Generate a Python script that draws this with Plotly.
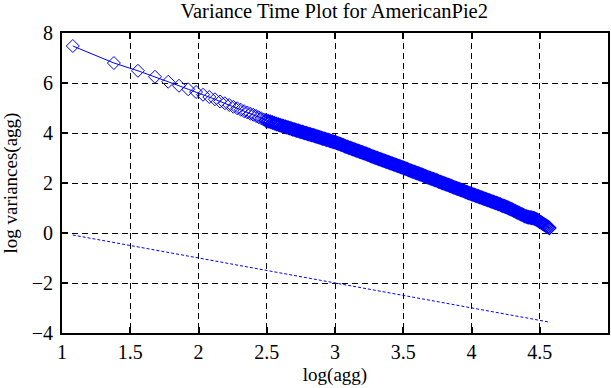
import plotly.graph_objects as go

# log10 of aggregation level
log_agg = [
    1.0792, 1.3802, 1.5563, 1.6812, 1.7782, 1.8573, 1.9243, 1.9823, 2.0334, 2.0792,
    2.1206, 2.1584, 2.1931, 2.2253, 2.2553, 2.2833, 2.3096, 2.3345, 2.3579, 2.3802,
    2.4014, 2.4216, 2.4409, 2.4594, 2.4771, 2.4942, 2.5105, 2.5263, 2.5416, 2.5563,
    2.5705, 2.5843, 2.5977, 2.6107, 2.6232, 2.6355, 2.6474, 2.6590, 2.6702, 2.6812,
    2.69, 2.70, 2.71, 2.72, 2.73, 2.74, 2.75, 2.76, 2.77, 2.78, 2.79,
    2.80, 2.81, 2.82, 2.83, 2.84, 2.85, 2.86, 2.87, 2.88, 2.89,
    2.90, 2.91, 2.92, 2.93, 2.94, 2.95, 2.96, 2.97, 2.98, 2.99,
    3.00, 3.01, 3.02, 3.03, 3.04, 3.05, 3.06, 3.07, 3.08, 3.09,
    3.10, 3.11, 3.12, 3.13, 3.14, 3.15, 3.16, 3.17, 3.18, 3.19,
    3.20, 3.21, 3.22, 3.23, 3.24, 3.25, 3.26, 3.27, 3.28, 3.29,
    3.30, 3.31, 3.32, 3.33, 3.34, 3.35, 3.36, 3.37, 3.38, 3.39,
    3.40, 3.41, 3.42, 3.43, 3.44, 3.45, 3.46, 3.47, 3.48, 3.49,
    3.50, 3.51, 3.52, 3.53, 3.54, 3.55, 3.56, 3.57, 3.58, 3.59,
    3.60, 3.61, 3.62, 3.63, 3.64, 3.65, 3.66, 3.67, 3.68, 3.69,
    3.70, 3.71, 3.72, 3.73, 3.74, 3.75, 3.76, 3.77, 3.78, 3.79,
    3.80, 3.81, 3.82, 3.83, 3.84, 3.85, 3.86, 3.87, 3.88, 3.89,
    3.90, 3.91, 3.92, 3.93, 3.94, 3.95, 3.96, 3.97, 3.98, 3.99,
    4.00, 4.01, 4.02, 4.03, 4.04, 4.05, 4.06, 4.07, 4.08, 4.09,
    4.10, 4.11, 4.12, 4.13, 4.14, 4.15, 4.16, 4.17, 4.18, 4.19,
    4.20, 4.21, 4.22, 4.23, 4.24, 4.25, 4.26, 4.27, 4.28, 4.29,
    4.30, 4.31, 4.32, 4.33, 4.34, 4.35, 4.36, 4.37, 4.38, 4.39,
    4.40, 4.41, 4.42, 4.43, 4.44, 4.45, 4.46, 4.47, 4.48, 4.49,
    4.50, 4.51, 4.52, 4.53, 4.54, 4.55, 4.56, 4.57,
]

# log10 of variance of the aggregated series
log_var = [
    7.48, 6.80, 6.49, 6.25, 6.05, 5.89, 5.75, 5.64, 5.53, 5.44,
    5.35, 5.26, 5.19, 5.12, 5.05, 4.99, 4.93, 4.87, 4.82, 4.77,
    4.73, 4.68, 4.63, 4.59, 4.54, 4.50, 4.47, 4.45, 4.42, 4.39,
    4.36, 4.34, 4.31, 4.29, 4.27, 4.25, 4.23, 4.21, 4.19, 4.17,
    4.15, 4.14, 4.12, 4.10, 4.09, 4.07, 4.05, 4.04, 4.02, 4.00, 3.99,
    3.97, 3.95, 3.94, 3.92, 3.91, 3.89, 3.87, 3.85, 3.84, 3.82,
    3.80, 3.78, 3.77, 3.75, 3.73, 3.72, 3.70, 3.68, 3.66, 3.65,
    3.63, 3.61, 3.59, 3.57, 3.55, 3.53, 3.51, 3.48, 3.46, 3.44,
    3.42, 3.40, 3.38, 3.36, 3.34, 3.32, 3.30, 3.28, 3.26, 3.24,
    3.22, 3.20, 3.18, 3.16, 3.14, 3.12, 3.09, 3.07, 3.05, 3.03,
    3.01, 2.99, 2.97, 2.95, 2.93, 2.91, 2.89, 2.87, 2.85, 2.83,
    2.81, 2.79, 2.77, 2.75, 2.73, 2.71, 2.69, 2.67, 2.65, 2.63,
    2.61, 2.59, 2.57, 2.55, 2.52, 2.50, 2.48, 2.46, 2.44, 2.42,
    2.40, 2.38, 2.36, 2.34, 2.32, 2.30, 2.27, 2.25, 2.23, 2.21,
    2.19, 2.17, 2.15, 2.13, 2.11, 2.09, 2.06, 2.04, 2.02, 2.00,
    1.98, 1.96, 1.94, 1.92, 1.90, 1.88, 1.85, 1.83, 1.81, 1.79,
    1.77, 1.75, 1.73, 1.71, 1.69, 1.67, 1.64, 1.62, 1.60, 1.58,
    1.56, 1.54, 1.52, 1.50, 1.48, 1.46, 1.44, 1.42, 1.40, 1.38,
    1.36, 1.34, 1.32, 1.30, 1.28, 1.26, 1.24, 1.22, 1.20, 1.18,
    1.16, 1.14, 1.11, 1.09, 1.07, 1.05, 1.03, 1.00, 0.98, 0.95,
    0.93, 0.90, 0.87, 0.84, 0.82, 0.79, 0.76, 0.74, 0.71, 0.68,
    0.66, 0.64, 0.63, 0.62, 0.61, 0.60, 0.58, 0.56, 0.53, 0.49,
    0.45, 0.42, 0.38, 0.35, 0.31, 0.28, 0.24, 0.20,
]

# reference line (slope -1)
ref_x = [1.079, 4.576]
ref_y = [-0.08, -3.57]

x_ticks = [1, 1.5, 2, 2.5, 3, 3.5, 4, 4.5, 5]
y_ticks = [-4, -2, 0, 2, 4, 6, 8]

blue = "#0000ff"
font_family = "Liberation Serif, Times New Roman, serif"
n_sparse = 26  # markers that are still visibly separated

fig = go.Figure()
# connecting line
fig.add_trace(go.Scatter(
    x=log_agg, y=log_var, mode="lines",
    line=dict(color=blue, width=1), showlegend=False,
))
# separated diamonds
fig.add_trace(go.Scatter(
    x=log_agg[:n_sparse], y=log_var[:n_sparse], mode="markers",
    marker=dict(symbol="diamond-open", size=10, color=blue, line=dict(width=1, color=blue)),
    showlegend=False,
))
# densely overlapping diamonds
fig.add_trace(go.Scatter(
    x=log_agg[n_sparse - 1:], y=log_var[n_sparse - 1:], mode="markers",
    marker=dict(symbol="diamond-open", size=10, color=blue, line=dict(width=1.5, color=blue)),
    showlegend=False,
))
fig.add_trace(go.Scatter(
    x=ref_x, y=ref_y, mode="lines",
    line=dict(color=blue, width=1, dash="3px,2px"),
    showlegend=False,
))

axis_common = dict(
    showline=True, linecolor="black", linewidth=2, mirror="ticks",
    ticks="inside", ticklen=6, tickwidth=2, tickcolor="black",
    showgrid=True, gridcolor="black", gridwidth=1, griddash="6px,4px",
    zeroline=False, automargin=False,
    tickfont=dict(family=font_family, size=20, color="black"),
)

fig.update_xaxes(
    range=[1, 5], tickvals=x_ticks, ticktext=[str(t) for t in x_ticks],
    ticklabelstandoff=0,
    title=dict(text="log(agg)", font=dict(family=font_family, size=19, color="black"), standoff=6),
    **axis_common,
)
fig.update_yaxes(
    range=[-4, 8], tickvals=y_ticks, ticktext=["\u2212" + str(-t) if t < 0 else str(t) for t in y_ticks],
    ticklabelstandoff=3,
    title=dict(text="log variances(agg)", font=dict(family=font_family, size=19, color="black"), standoff=10),
    **axis_common,
)

fig.update_layout(
    width=611, height=388,
    margin=dict(l=62, r=3, t=33, b=55),
    paper_bgcolor="white", plot_bgcolor="white",
    title=dict(text="Variance Time Plot for AmericanPie2", x=0.547, xanchor="center",
               y=0.99, yanchor="top",
               font=dict(family=font_family, size=20.5, color="black")),
)

fig.write_html("out.html", config={"displayModeBar": False},
               post_script="document.body.style.margin='0';")
